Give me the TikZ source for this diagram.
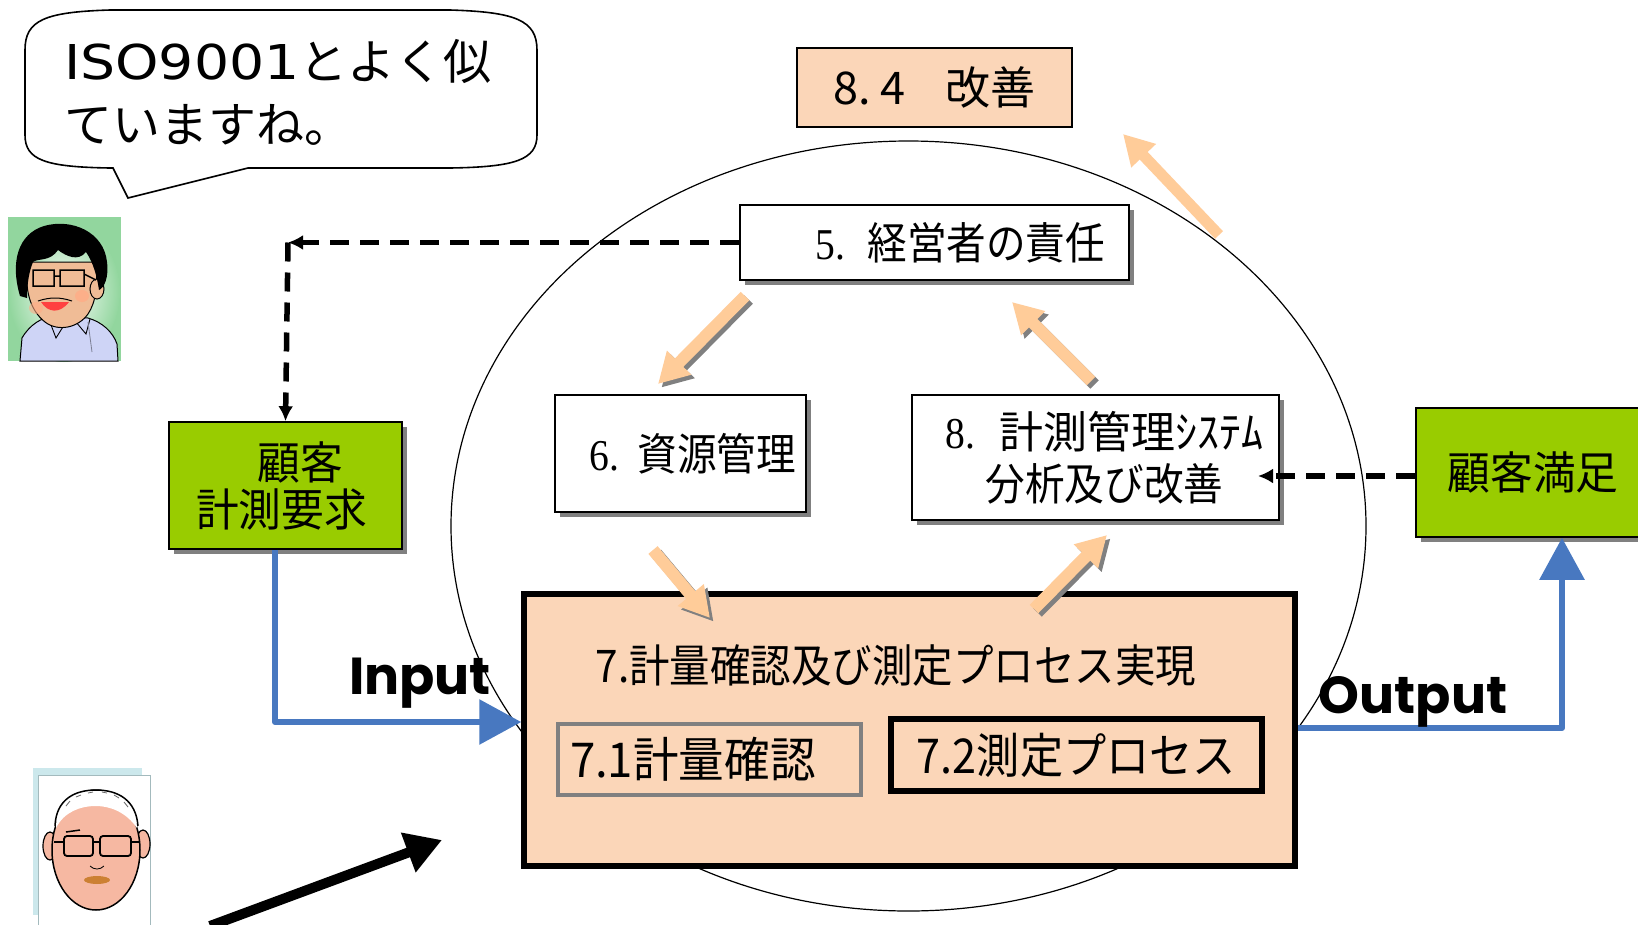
\documentclass[tikz,border=0pt]{standalone}
\usepackage{fontspec}
\usetikzlibrary{arrows.meta,shadows,calc}

\newfontfamily\jpg{Noto Sans CJK JP}
\newfontfamily\jpc[FakeStretch=0.9]{Noto Sans CJK JP}
\newfontfamily\jpm[FakeStretch=0.95]{Noto Sans CJK JP}
\newfontfamily\tms[FakeStretch=0.9]{Liberation Serif}
\newfontfamily\widelat[FakeStretch=1.15]{DejaVu Sans}
\newfontfamily\popb{Poppins}
\newcommand\setfs[2]{\fontsize{#1}{#2}\selectfont}

\definecolor{peach}{RGB}{251,214,184}
\definecolor{grass}{RGB}{153,204,0}
\definecolor{flow}{RGB}{72,120,192}
\definecolor{arrowtan}{RGB}{255,204,153}
\definecolor{shadowgray}{RGB}{128,128,128}
\definecolor{mint}{RGB}{146,214,158}
\definecolor{skin}{RGB}{240,188,150}
\definecolor{shirt}{RGB}{206,212,246}
\definecolor{paleskin}{RGB}{246,184,162}
\definecolor{framecyan}{RGB}{204,232,236}

\begin{document}
\begin{tikzpicture}[x=1pt,y=-1pt,
  wbox/.style={draw=black, line width=1.6pt, fill=white,
    drop shadow={shadow xshift=5pt, shadow yshift=-5pt, opacity=1, fill=shadowgray},
    font=\setfs{44}{52}\jpc, inner sep=0pt},
  gbox/.style={draw=black, line width=1.6pt, fill=grass,
    drop shadow={shadow xshift=5pt, shadow yshift=-5pt, opacity=1, fill=shadowgray},
    font=\setfs{45}{49}\jpm, inner sep=0pt, align=center},
  dashline/.style={line width=5.5pt, dash pattern=on 19pt off 11pt,
    -{Latex[length=15pt,width=15pt]}},
  flowline/.style={draw=flow, line width=6pt, line join=round,
    -{Triangle[length=42pt,width=44pt]}},
  tanarrow/.style={draw=arrowtan, line width=12pt,
    -{Triangle[length=30pt,width=32pt]}},
  tanshadow/.style={draw=shadowgray, line width=12pt,
    -{Triangle[length=30pt,width=32pt]},
    transform canvas={xshift=3.5pt,yshift=-3.5pt}},
  io/.style={font=\setfs{52}{60}\popb\bfseries, inner sep=0pt}
]
\useasboundingbox (0,0) rectangle (1638,924);
\fill[white] (0,0) rectangle (1638,924);

% ---------- the management cycle ----------
\draw[line width=1.2pt] (908.5,526) ellipse [x radius=457.5, y radius=385];

\node[draw=black, line width=1.2pt, fill=peach, minimum width=275pt, minimum height=79pt,
      font=\setfs{45}{50}\jpg, inner sep=0pt] (improve) at (934.5,87.5) {8.\hspace{10pt}4\hspace{0.9em}改善};

\node[wbox, minimum width=389pt, minimum height=75pt, text width=341pt, align=right,
      inner xsep=24pt] (mgmt) at (934.5,242.5) {{\tms 5.}\hspace{22pt}経営者の責任};

\node[wbox, minimum width=251pt, minimum height=117pt, text width=231pt, align=right,
      inner xsep=10pt] (res) at (680.5,453.5) {{\tms 6.}\hspace{18pt}資源管理};

\node[wbox, minimum width=367pt, minimum height=125pt, align=center,
      font=\setfs{44}{52}\jpc] (meas) at (1095.5,457.5)
      {\hspace*{18pt}{\tms 8.}\hspace{24pt}{\jpg 計測管理ｼｽﾃﾑ}\\\hspace*{18pt}分析及び改善};

\node[gbox, minimum width=233pt, minimum height=127pt] (req) at (285.5,485.5)
      {\raisebox{-5pt}{\hspace*{29pt}顧客}\\\raisebox{-3pt}{\hspace*{-8pt}計測要求}};

\node[gbox, minimum width=234pt, minimum height=129pt] (sat) at (1533,472.5) {顧客満足};

% ---------- realisation block ----------
\node[draw=black, line width=5.5pt, fill=peach, minimum width=771pt, minimum height=272pt,
      inner sep=0pt] (proc) at (909.5,730) {};
\node[font=\setfs{45}{50}\jpc, inner sep=0pt] (proctitle) at (896,666)
      {7.計量確認及び測定プロセス実現};
\node[draw=shadowgray, line width=4.5pt, fill=peach, minimum width=303pt, minimum height=71pt,
      text width=279pt, inner xsep=12pt, align=left, font=\setfs{48}{52}\jpm]
      (calib) at (709.5,759.5) {7.1計量確認};
\node[draw=black, line width=5.5pt, fill=peach, minimum width=371pt, minimum height=72pt,
      inner sep=0pt, font=\setfs{48}{52}\jpc] (mproc) at (1076.5,755) {7.2測定プロセス};

% ---------- dashed feedback connectors ----------
\coordinate (corner) at (288,242.5);
\draw[dashline] (mgmt.west) -- (corner);
\draw[dashline] (corner) -- (req.north);
\coordinate (satin) at (1258,476);
\draw[dashline] (sat.west |- satin) -- (satin);

% ---------- input / output ----------
\draw[flowline] ([xshift=-10.5pt]req.south) |- ([yshift=8pt]proc.west);
\draw[flowline] ([yshift=2pt]proc.east) -| ([xshift=29pt]sat.south);
\node[io] (inlabel) at (420,683) {Input};
\node[io] (outlabel) at (1413,702) {Output};

% ---------- cycle arrows ----------
\coordinate (a1s) at (745,296);  \coordinate (a1e) at (658,384);
\coordinate (a2s) at (1091,381); \coordinate (a2e) at (1012,302);
\coordinate (a3s) at (653,550);  \coordinate (a3e) at (710,618);
\coordinate (a4s) at (1034,609); \coordinate (a4e) at (1107,535);
\coordinate (a5s) at (1219,235); \coordinate (a5e) at (1123,134);
\foreach \s/\e in {a1s/a1e, a2s/a2e, a3s/a3e, a4s/a4e}{
  \draw[tanshadow] (\s) -- (\e);
  \draw[tanarrow] (\s) -- (\e);
}
\draw[tanarrow, line width=11pt] (a5s) -- (a5e);

% ---------- speech bubble ----------
\draw[line width=1.6pt, fill=white]
  (25,50) .. controls (25,20) and (45,12) .. (110,10) -- (450,10)
  .. controls (515,12) and (537,20) .. (537,50) -- (537,135)
  .. controls (537,160) and (515,167) .. (450,168) -- (248,168) -- (128,198) -- (113,168)
  -- (110,168) .. controls (45,167) and (25,160) .. (25,135) -- cycle;
\node[anchor=west, align=left, font=\setfs{48}{63}\jpg, inner sep=0pt] (speech) at (64,92)
  {{\widelat ISO9001}とよく似\\ていますね。};

% ---------- first portrait ----------
\fill[mint] (8,217) rectangle (121,361);
\shade[inner color=white, outer color=mint] (64,292) ellipse [x radius=56, y radius=70];
\fill[shirt, draw=black, line width=1pt] (20,361) -- (22,338)
  .. controls (30,324) and (42,318) .. (52,316) -- (88,318)
  .. controls (102,322) and (113,332) .. (117,344) -- (118,361) -- cycle;
\draw[line width=0.9pt] (48,317) -- (56,338) -- (66,322) (76,322) -- (86,334) -- (90,319);
\draw[shirt!60!black, line width=0.8pt] (88,322) -- (92,352);
\fill[skin, draw=black, line width=1pt] (28,262) .. controls (24,290) and (30,310) .. (45,322)
  .. controls (58,332) and (78,328) .. (88,314) .. controls (96,302) and (98,285) .. (96,262) -- cycle;
\fill[skin, draw=black, line width=1pt] (97,289) ellipse [x radius=7, y radius=10];
\fill[black] (20,296) .. controls (10,262) and (18,234) .. (44,226)
  .. controls (72,218) and (104,232) .. (107,262) .. controls (109,278) and (104,288) .. (99,290)
  .. controls (97,276) and (93,262) .. (86,252) .. controls (78,262) and (66,256) .. (58,250)
  .. controls (50,262) and (38,258) .. (33,262)
  .. controls (29,272) and (27,284) .. (27,298) -- cycle;
\draw[line width=1.5pt] (33,270) rectangle (54,286) (60,270) rectangle (84,286)
  (54,276) -- (60,276) (84,274) -- (96,280);
\fill[pink!70!orange, opacity=0.8] (82,296) ellipse [x radius=7, y radius=6];
\fill[pink!70!orange, opacity=0.6] (36,308) ellipse [x radius=7, y radius=6];
\fill[red!75] (41,302) .. controls (48,313) and (60,314) .. (69,302) -- cycle;
\draw[line width=1pt] (38,301) .. controls (50,297) and (60,297) .. (72,301);

% ---------- second portrait ----------
\fill[framecyan] (33,768) rectangle (142,915);
\fill[white, draw=framecyan!80!black, line width=1pt] (38,775) rectangle (150,930);
\fill[paleskin, draw=black, line width=1.2pt] (50,846) ellipse [x radius=7, y radius=14];
\fill[paleskin, draw=black, line width=1.2pt] (143,844) ellipse [x radius=7, y radius=14];
\fill[paleskin, draw=black, line width=1.5pt] (96,850) ellipse [x radius=44, y radius=60];
\fill[white] (56,828) .. controls (56,800) and (74,790) .. (96,790)
  .. controls (118,790) and (136,800) .. (137,828)
  .. controls (126,812) and (110,806) .. (96,806) .. controls (80,806) and (64,812) .. (56,828) -- cycle;
\draw[line width=1.5pt] (55,826) .. controls (56,800) and (74,790) .. (96,790)
  .. controls (118,790) and (136,800) .. (138,826);
\draw[black!60, line width=0.8pt] (66,806) -- (70,801) (76,797) -- (81,795) (88,793) -- (93,792)
  (102,792) -- (107,793) (114,795) -- (119,798) (124,802) -- (128,807);
\draw[line width=1.8pt, rounded corners=3pt] (64,836) rectangle (93,856) (100,836) rectangle (131,856)
  (93,842) -- (100,842) (64,842) -- (54,842) (131,842) -- (139,842);
\draw[line width=1.5pt] (66,832) -- (80,830);
\fill[brown!80!orange] (97,880) ellipse [x radius=13, y radius=4];
\draw[line width=0.8pt] (90,866) .. controls (94,870) and (100,870) .. (104,866);

% ---------- pointing arrow ----------
\coordinate (ps) at (210,926);
\coordinate (pe) at (442,840);
\draw[line width=10pt, -{Triangle[length=36pt,width=40pt]}] (ps) -- (pe);
\end{tikzpicture}
\end{document}
